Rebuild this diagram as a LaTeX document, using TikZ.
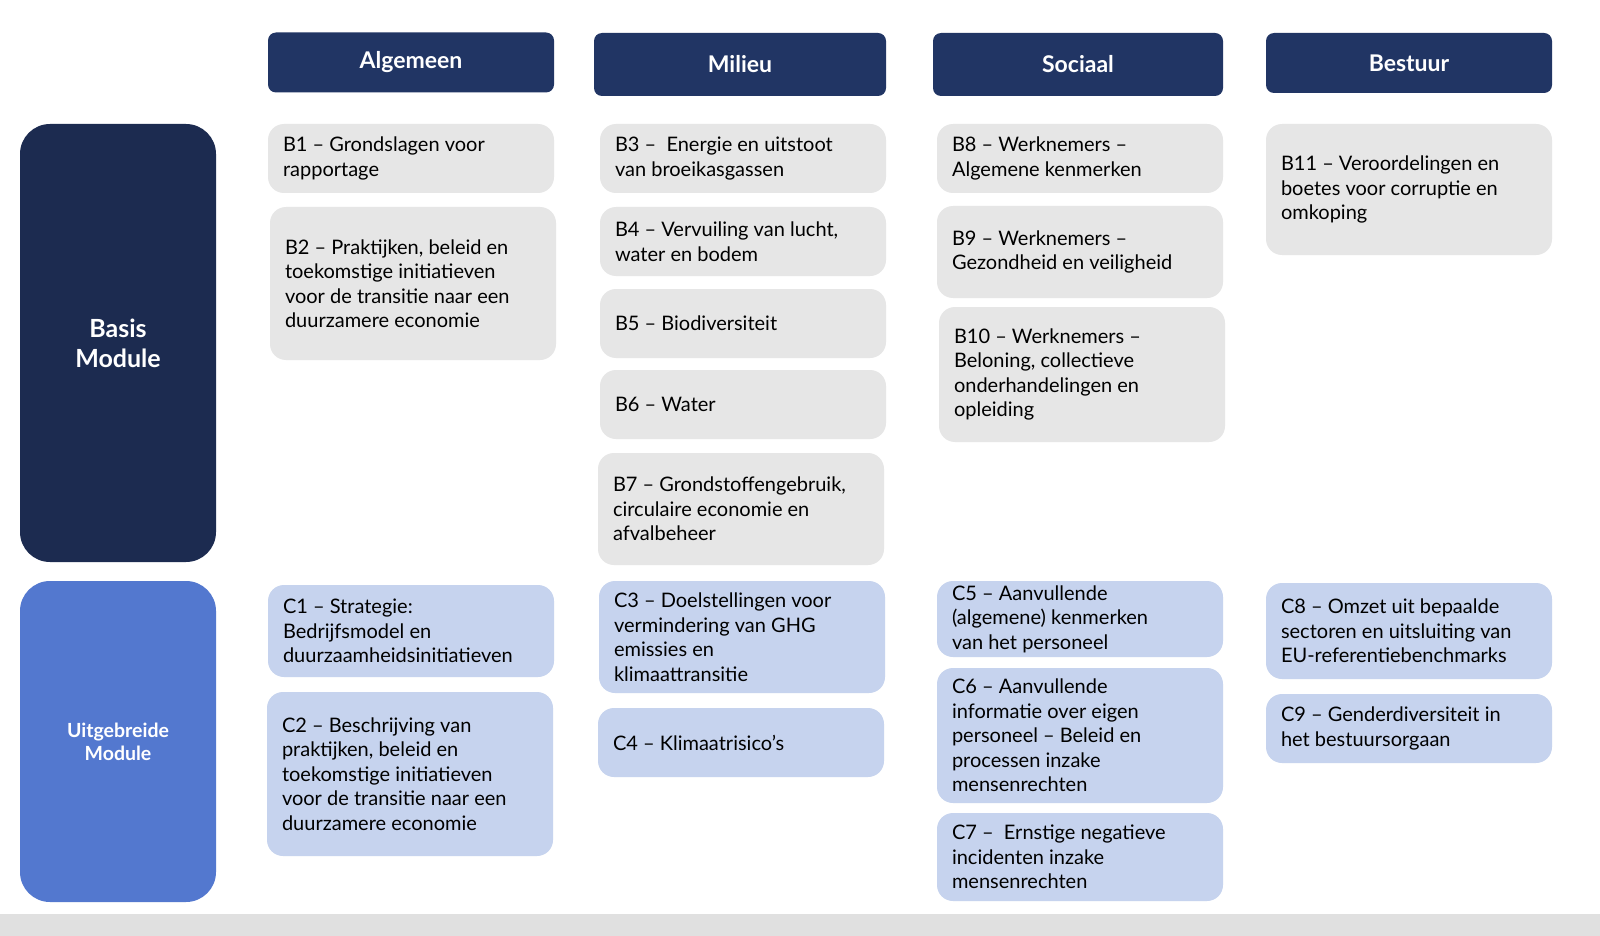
\documentclass[tikz,border=0pt]{standalone}
\usepackage{fontspec}
\setmainfont{Lato}
\usetikzlibrary{positioning}

\definecolor{navy}{HTML}{1C2B50}
\definecolor{headblue}{HTML}{213564}
\definecolor{midblue}{HTML}{5378CF}
\definecolor{boxgray}{HTML}{E6E6E6}
\definecolor{boxblue}{HTML}{C6D3EE}

\tikzset{
  head/.style={fill=headblue, rounded corners=8pt, text=white, font=\fontsize{23}{27}\selectfont\bfseries, minimum width=286pt, minimum height=60pt},
  item/.style={rounded corners=16pt, minimum width=286pt, text width=256pt, align=flush left, inner sep=0pt, font=\fontsize{20}{24.5}\selectfont},
  gbox/.style={item, fill=boxgray},
  cbox/.style={item, fill=boxblue},
  side/.style={rounded corners=30pt, minimum width=196pt, text=white, align=center, inner sep=0pt}
}

\begin{document}
\begin{tikzpicture}[x=1pt, y=-1pt]

        \useasboundingbox (0,0) rectangle (1600,936);
        \path[fill=white] (0,0) rectangle (1600,936);
        \path[fill=black!12] (0,914) rectangle (1600,936);

        % column heads
        \node[head] (algemeen) at (411,62.5) {Algemeen};
        \node[head, minimum width=292pt, minimum height=63pt] (milieu) at (740,64.5) {Milieu};
        \node[head, minimum width=290pt, minimum height=63pt] (sociaal) at (1078,64.5) {Sociaal};
        \node[head] (bestuur) at (1409,63) {Bestuur};

        % row labels
        \node[side, fill=navy, minimum height=438pt, font=\fontsize{25}{30}\selectfont\bfseries] (basis) at (118,343) {Basis\\Module};
        \node[side, fill=midblue, minimum height=321pt, font=\fontsize{19.5}{23}\selectfont\bfseries] (uitgebreid) at (118,741.5) {Uitgebreide\\Module};

        % basis module
        \node[gbox, minimum height=69pt] (b1) at (411,158.5) {B1 – Grondslagen voor\\rapportage};
        \node[gbox, minimum height=153pt] (b2) at (413,283.5) {B2 – Praktijken, beleid en\\toekomstige initiatieven\\voor de transitie naar een\\duurzamere economie};
        \node[gbox, minimum height=69pt] (b3) at (743,158.5) {B3 –\ \ Energie en uitstoot\\van broeikasgassen};
        \node[gbox, minimum height=69pt] (b4) at (743,241.5) {B4 – Vervuiling van lucht,\\water en bodem};
        \node[gbox, minimum height=69pt] (b5) at (743,323.5) {B5 – Biodiversiteit};
        \node[gbox, minimum height=69pt] (b6) at (743,404.5) {B6 – Water};
        \node[gbox, minimum height=112pt] (b7) at (741,509) {B7 – Grondstoffengebruik,\\circulaire economie en\\afvalbeheer};
        \node[gbox, minimum height=69pt] (b8) at (1080,158.5) {B8 – Werknemers –\\Algemene kenmerken};
        \node[gbox, minimum height=92pt] (b9) at (1080,252) {B9 – Werknemers –\\Gezondheid en veiligheid};
        \node[gbox, minimum height=135pt] (b10) at (1082,374.5) {B10 – Werknemers –\\Beloning, collectieve\\onderhandelingen en\\opleiding};
        \node[gbox, minimum height=131pt] (b11) at (1409,189.5) {B11 – Veroordelingen en\\boetes voor corruptie en\\omkoping};

        % uitgebreide module
        \node[cbox, minimum height=92pt] (c1) at (411,631) {C1 – Strategie:\\Bedrijfsmodel en\\duurzaamheidsinitiatieven};
        \node[cbox, minimum height=164pt] (c2) at (410,774) {C2 – Beschrijving van\\praktijken, beleid en\\toekomstige initiatieven\\voor de transitie naar een\\duurzamere economie};
        \node[cbox, minimum height=112pt] (c3) at (742,637) {C3 – Doelstellingen voor\\vermindering van GHG\\emissies en\\klimaattransitie};
        \node[cbox, minimum height=69pt] (c4) at (741,742.5) {C4 – Klimaatrisico’s};
        \node[cbox, minimum height=76pt] (c5) at (1080,619) {C5 – Aanvullende\\(algemene) kenmerken\\van het personeel};
        \node[cbox, minimum height=135pt] (c6) at (1080,735.5) {C6 – Aanvullende\\informatie over eigen\\personeel – Beleid en\\processen inzake\\mensenrechten};
        \node[cbox, minimum height=88pt] (c7) at (1080,857) {C7 –\ \ Ernstige negatieve\\incidenten inzake\\mensenrechten};
        \node[cbox, minimum height=96pt] (c8) at (1409,631) {C8 – Omzet uit bepaalde\\sectoren en uitsluiting van\\EU-referentiebenchmarks};
        \node[cbox, minimum height=69pt] (c9) at (1409,728.5) {C9 – Genderdiversiteit in\\het bestuursorgaan};

\end{tikzpicture}
\end{document}
